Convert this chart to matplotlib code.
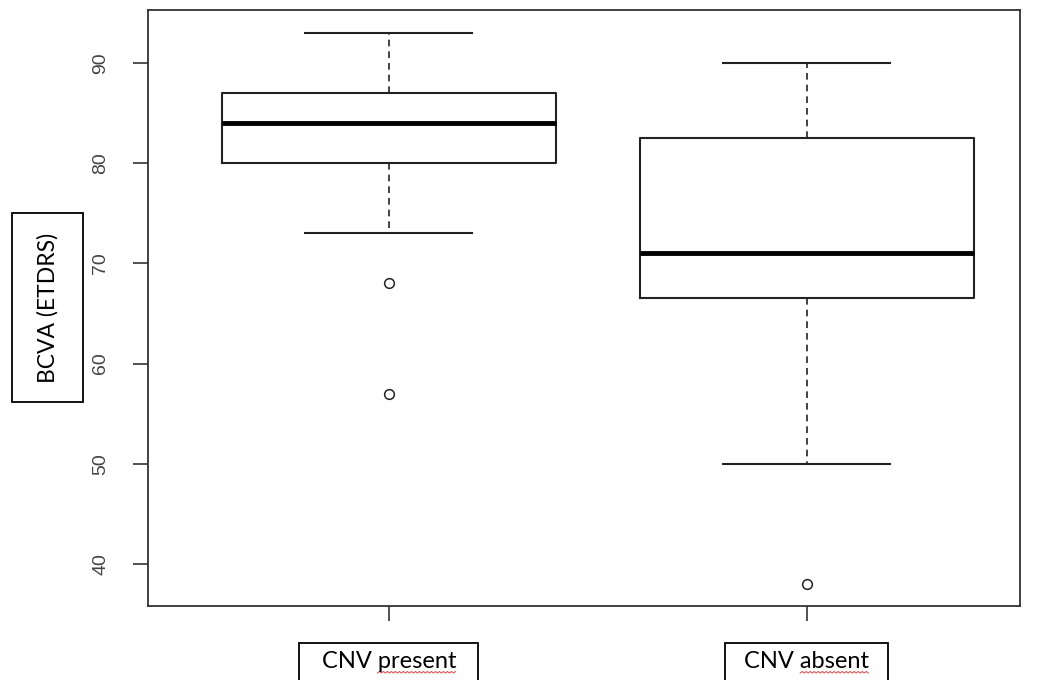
import numpy as np
import matplotlib.pyplot as plt
import matplotlib.transforms as mtransforms
from matplotlib.patches import Rectangle
from matplotlib.lines import Line2D

# valores
grupos = ["CNV present", "CNV absent"]
bigode_inf = [73, 50]
q1 = [80, 66.5]
medianas = [84, 71]
q3 = [87, 82.5]
bigode_sup = [93, 90]
outliers = [[68, 57], [38]]
y_ticks = [40, 50, 60, 70, 80, 90]

W, H = 1037, 680
fig = plt.figure(figsize=(W / 100, H / 100), dpi=100)
ax = fig.add_axes([148 / W, 1 - 606 / H, (1020 - 148) / W, (606 - 10) / H])

stats = []
for i in range(len(grupos)):
    stats.append(dict(label=grupos[i], whislo=bigode_inf[i], q1=q1[i], med=medianas[i],
                      q3=q3[i], whishi=bigode_sup[i], fliers=outliers[i]))

cor = "#222222"
ax.bxp(stats, positions=[1, 2], widths=0.8, capwidths=0.4,
       boxprops=dict(color=cor, lw=1.5),
       medianprops=dict(color="black", lw=3.5),
       whiskerprops=dict(color=cor, lw=1.2, ls=(0, (4, 3))),
       capprops=dict(color=cor, lw=1.5),
       flierprops=dict(marker="o", mfc="none", mec=cor, ms=7, mew=1.1))

ax.set_xlim(0.424, 2.51)
ax.set_ylim(35.8, 95.3)
ax.set_xticks([1, 2])
ax.set_xticklabels([])
ax.set_yticks(y_ticks)
ax.set_yticklabels([str(v) for v in y_ticks], rotation=90, va="center",
                   fontsize=14, color="#444444", family="Liberation Sans")
ax.tick_params(axis="both", length=11, width=1.2, color="#333333")
ax.tick_params(axis="y", pad=17)
for s in ax.spines.values():
    s.set_color("#333333")
    s.set_linewidth(1.3)

# caixas dos rótulos
tr = mtransforms.blended_transform_factory(ax.transData, fig.transFigure)
larguras = [179 / 418, 163 / 418]
textos = []
for i, g in enumerate(grupos):
    x = i + 1
    fig.patches.append(Rectangle((x - larguras[i] / 2, -0.05), larguras[i], 0.05 + 1 - 643 / H,
                                 transform=tr, fill=False, ec="black", lw=1.3))
    t = fig.text(x, 1 - 662 / H, g, transform=tr, ha="center", va="center",
                 fontsize=17, family="Lato", color="black")
    textos.append(t)

fig.patches.append(Rectangle((12 / W, 1 - 402 / H), 71 / W, 189 / H,
                             transform=fig.transFigure, fill=False, ec="black", lw=1.3))
fig.text(48 / W, 1 - 308 / H, "BCVA (ETDRS)", rotation=90, ha="center", va="center",
         fontsize=16.5, family="Lato", color="black")

# sublinhado vermelho ondulado (corretor ortográfico) sob a segunda palavra
fig.canvas.draw()
r = fig.canvas.get_renderer()
for t in textos:
    bb = t.get_window_extent(r)
    tmp = fig.text(0, 0, t.get_text().split()[0] + " ", fontsize=17, family="Lato")
    w0 = tmp.get_window_extent(r).width
    tmp.remove()
    xs = np.arange(bb.x0 + w0, bb.x1, 2.0)
    ys = H - 673 + np.where(np.arange(len(xs)) % 2 == 0, 0.0, 1.5)
    fig.lines.append(Line2D(xs / W, ys / H, transform=fig.transFigure,
                            color="#e05a5a", lw=0.8))

fig.savefig("out.png", dpi=100)
